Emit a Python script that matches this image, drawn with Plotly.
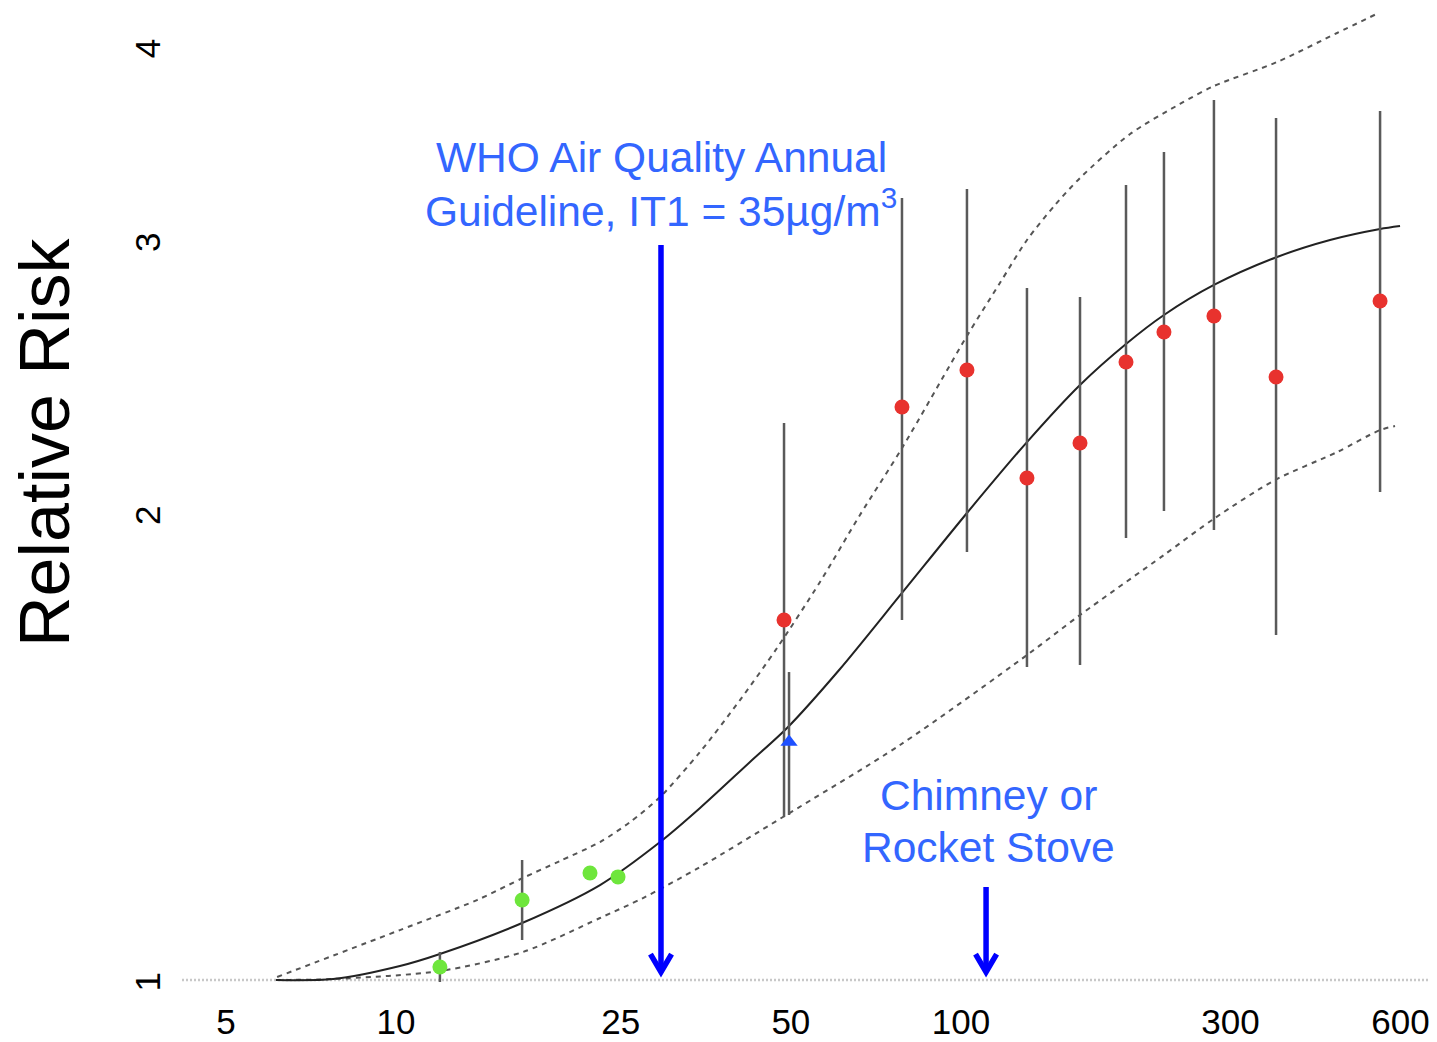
import plotly.graph_objects as go

# ---------------- data ----------------
x_tick_vals = [5, 10, 25, 50, 100, 300, 600]
x_tick_text = ["5", "10", "25", "50", "100", "300", "600"]
y_tick_vals = [1, 2, 3, 4]
y_tick_text = ["1", "2", "3", "4"]

# fitted exposure-response curve
curve_x = [6.13, 7.74, 10.16, 11.96, 16.72, 22.97, 29.34, 34.53, 42.33, 49.23, 61.09, 78.65,
           102.5, 130.9, 162.5, 196.0, 228.8, 280.5, 362.8, 450.2, 552.1, 598.9]
curve_y = [1.000, 1.0015, 1.0210, 1.0394, 1.0884, 1.1515, 1.2275, 1.2911, 1.3824, 1.4540, 1.5872,
           1.7770, 2.0012, 2.2236, 2.4205, 2.5724, 2.6856, 2.8081, 2.9274, 3.0022, 3.0516, 3.0652]

# upper / lower confidence bounds
upper_x = [6.16, 10.16, 13.91, 16.78, 19.51, 22.97, 25.96, 29.34, 34.53, 40.64, 47.26, 56.31,
           66.27, 78.65, 102.5, 117.3, 130.9, 146.8, 162.5, 199.3, 244.2, 280.5, 362.8, 463.3, 545.3]
upper_y = [1.0045, 1.077, 1.1261, 1.1638, 1.1934, 1.2275, 1.2644, 1.3124, 1.4031, 1.5157, 1.6375,
           1.8063, 1.9953, 2.2036, 2.6032, 2.8171, 3.0022, 3.1623, 3.2917, 3.5141, 3.6743, 3.7736,
           3.9107, 4.0829, 4.2015]
lower_x = [6.13, 7.74, 11.96, 16.78, 22.97, 27.37, 34.53, 48.42, 78.03, 130.9,
           162.5, 228.8, 281.7, 359.8, 463.3, 552.1, 586.8]
lower_y = [1.0, 1.0015, 1.0134, 1.0425, 1.0965, 1.1295, 1.1828, 1.2740, 1.4178,
           1.6205, 1.7199, 1.8802, 1.9864, 2.1017, 2.1907, 2.2636, 2.2771]

# green studies (lower exposure)
green_x = [11.96, 16.72, 22.05, 24.72]
green_rr = [1.0195, 1.1261, 1.1722, 1.1655]
green_lo = [0.997, 1.0612, 1.1722, 1.1655]
green_hi = [1.0425, 1.1952, 1.1722, 1.1655]

# red studies (higher exposure)
red_x = [48.63, 78.65, 102.5, 130.9, 162.5, 196.0, 228.8, 280.5, 361.3, 552.1]
red_rr = [1.7072, 2.3424, 2.4751, 2.108, 2.2203, 2.5046, 2.6187, 2.6816, 2.4494, 2.742]
red_lo = [1.2740, 1.7072, 1.8886, 1.5919, 1.5966, 1.9283, 2.0072, 1.9514, 1.6696, 2.0646]
red_hi = [2.2873, 3.1953, 3.2383, 2.7956, 2.7584, 3.2576, 3.4213, 3.6959, 3.5984, 3.636]

# blue triangle study
tri_x = [49.63]
tri_rr = [1.4240]
tri_lo = [1.2778]
tri_hi = [1.5801]

baseline_x = [4.18, 700]
baseline_y = [1, 1]

# annotation anchors
who_x = 29.45          # WHO guideline arrow position
who_top, arrow_tip = 2.98, 1.012
stove_x = 110.8        # chimney / rocket stove arrow
stove_top = 1.1482

# ---------------- figure ----------------
FONT = "Liberation Sans, Arial, Helvetica, sans-serif"
BLUE_TXT = "#3366FF"
ARROW = "#0000FF"
BAR = "#5a5a5a"

fig = go.Figure()

fig.add_trace(go.Scatter(x=baseline_x, y=baseline_y, mode="lines",
                         line=dict(color="#c8c8c8", width=2.5, dash="2px,2px")))
fig.add_trace(go.Scatter(x=upper_x, y=upper_y, mode="lines", line_shape="spline",
                         line=dict(color="#555555", width=2, dash="5px,5px", smoothing=0.8)))
fig.add_trace(go.Scatter(x=lower_x, y=lower_y, mode="lines", line_shape="spline",
                         line=dict(color="#555555", width=2, dash="5px,5px", smoothing=0.8)))
fig.add_trace(go.Scatter(x=curve_x, y=curve_y, mode="lines", line_shape="spline",
                         line=dict(color="#222222", width=2, smoothing=0.8)))


def err(rr, lo, hi):
    return dict(type="data", symmetric=False,
                array=[h - r for h, r in zip(hi, rr)],
                arrayminus=[r - l for r, l in zip(rr, lo)],
                width=0, thickness=2.5, color=BAR)


fig.add_trace(go.Scatter(x=green_x, y=green_rr, mode="markers",
                         marker=dict(color="#6EE63C", size=15),
                         error_y=err(green_rr, green_lo, green_hi)))
fig.add_trace(go.Scatter(x=red_x, y=red_rr, mode="markers",
                         marker=dict(color="#E8322E", size=15),
                         error_y=err(red_rr, red_lo, red_hi)))
fig.add_trace(go.Scatter(x=tri_x, y=tri_rr, mode="markers",
                         marker=dict(color="#1E50FF", size=15, symbol="triangle-up"),
                         error_y=err(tri_rr, tri_lo, tri_hi)))


def add_arrow(x, ytop, ytip):
    fig.add_trace(go.Scatter(x=[x, x], y=[ytop, ytip], mode="lines",
                             line=dict(color=ARROW, width=5.5)))
    fig.add_trace(go.Scatter(x=[x * 0.958, x, x * 1.044], y=[ytip * 1.027, ytip, ytip * 1.027],
                             mode="lines", line=dict(color=ARROW, width=5.5)))


add_arrow(who_x, who_top, arrow_tip)
add_arrow(stove_x, stove_top, arrow_tip)

# geometry (page has an 8px body margin; page pixel = figure pixel + 8)
W, H = 1429, 1034
L, R, T, B = 172, 0, 0, 52
PLOT_LEFT_PAGE, PLOT_BOTTOM_PAGE = 180, 990
pw, ph = W - L - R, H - T - B


def px(xpage):
    return (xpage - PLOT_LEFT_PAGE) / pw


def py(ypage):
    return (PLOT_BOTTOM_PAGE - ypage) / ph


ann = []
txt_font = dict(family=FONT, size=42.5, color=BLUE_TXT)
ann.append(dict(xref="paper", yref="paper", x=px(661), y=py(157.5), text="WHO Air Quality Annual",
                showarrow=False, xanchor="center", yanchor="middle", font=txt_font))
ann.append(dict(xref="paper", yref="paper", x=px(661), y=py(207.5),
                text="Guideline, IT1 = 35µg/m<sup>3</sup>",
                showarrow=False, xanchor="center", yanchor="middle", font=txt_font))
ann.append(dict(xref="paper", yref="paper", x=px(988), y=py(795.5), text="Chimney or",
                showarrow=False, xanchor="center", yanchor="middle", font=txt_font))
ann.append(dict(xref="paper", yref="paper", x=px(988), y=py(847.5), text="Rocket Stove",
                showarrow=False, xanchor="center", yanchor="middle", font=txt_font))
ann.append(dict(xref="paper", yref="paper", x=px(45), y=py(443), text="Relative Risk",
                textangle=-90, showarrow=False, xanchor="center", yanchor="middle",
                font=dict(family=FONT, size=70, color="black")))

fig.update_layout(
    width=W, height=H,
    margin=dict(l=L, r=R, t=T, b=B, pad=0, autoexpand=False),
    paper_bgcolor="white", plot_bgcolor="white",
    showlegend=False,
    font=dict(family=FONT, color="black"),
    annotations=ann,
    xaxis=dict(type="log", automargin=False,
               range=[(180 + 168.9) / 564.9, (1437 + 168.9) / 564.9],
               tickvals=x_tick_vals, ticktext=x_tick_text,
               tickfont=dict(size=35, family=FONT, color="black"),
               ticklabelstandoff=8,
               showgrid=False, zeroline=False, showline=False, ticks=""),
    yaxis=dict(type="log", automargin=False,
               range=[(980 - 990) / 1550, (980 - 8) / 1550],
               tickvals=y_tick_vals, ticktext=y_tick_text, tickangle=-90,
               tickfont=dict(size=35, family=FONT, color="black"),
               ticklabelstandoff=12, ticklabelshift=7,
               showgrid=False, zeroline=False, showline=False, ticks=""),
)

fig.write_html("out.html")
